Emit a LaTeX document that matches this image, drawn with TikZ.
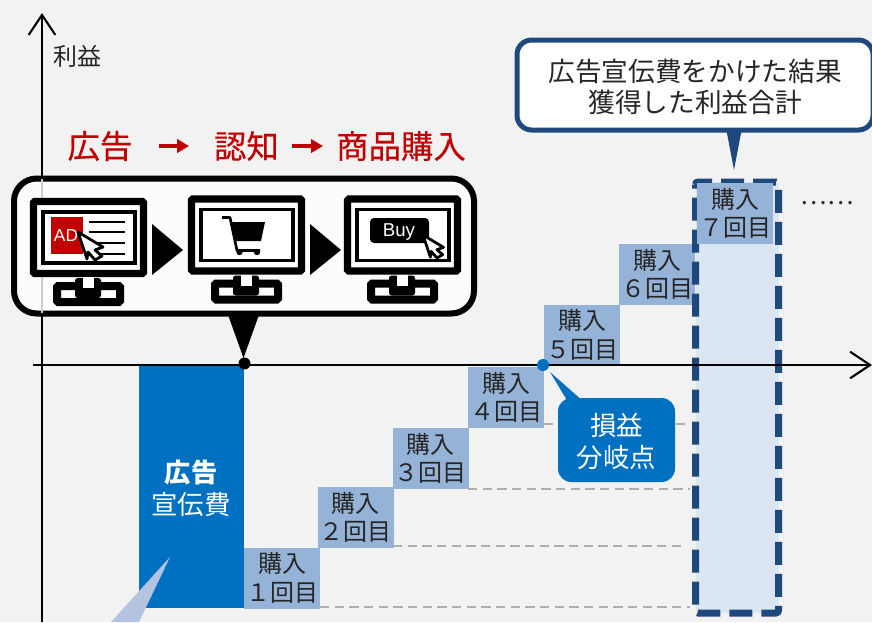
\documentclass[tikz,border=0pt]{standalone}
\usepackage{fontspec}
\setmainfont{Noto Sans CJK JP}
\newfontfamily\medfont[FakeBold=0.25]{Noto Sans CJK JP}
\newfontfamily\latinfont{Liberation Sans}
\usetikzlibrary{arrows.meta}
\definecolor{bgc}{HTML}{F2F2F2}
\definecolor{blueA}{HTML}{0070C0}
\definecolor{stepc}{HTML}{95B3D7}
\definecolor{navy}{HTML}{1F497D}
\definecolor{paleb}{HTML}{DCE6F2}
\definecolor{redc}{HTML}{C00000}
\definecolor{wedge}{HTML}{B4C3DF}
\definecolor{dashc}{HTML}{AEAEAE}
\definecolor{callw}{HTML}{FCFCFC}
\newcommand{\fs}[1]{\fontsize{#1}{#1}\selectfont}
\newcommand{\curs}[3]{%
  \draw[fill=white,draw=black,line width=2.1pt,line join=round,shift={(#1,#2)},scale=#3]
    (0,0) -- (25,15) -- (17,18) -- (24,24) -- (17,28) -- (10,20) -- (9,27) -- cycle;}
\newcommand{\monitor}[2]{%
  \begin{scope}[shift={(#1,#2)}]
    \draw[line width=5.4pt,fill=white,rounded corners=1pt] (33.5,201.5) rectangle (143.5,273.5);
    \draw[line width=2.4pt,fill=white] (43,212) rectangle (135,263);
    \draw[line width=6pt,fill=white,rounded corners=1pt] (57,286) rectangle (120,302);
    \fill[black,rounded corners=2pt] (75,278) rectangle (101,298);
    \fill[white] (83,277) rectangle (94,288);
  \end{scope}}
\tikzset{
  stepbox/.style={fill=stepc,inner sep=0pt,minimum width=57pt,minimum height=45.75pt,
    align=center,text=black!85,font=\fontsize{18}{21.5}\selectfont},
  guide/.style={dashc,line width=1.5pt,dash pattern=on 7pt off 4pt},
  axisline/.style={line width=1.6pt,-{Straight Barb[length=15pt,width=20pt,line width=1.6pt]}},
  redtitle/.style={text=redc,inner sep=0pt,font=\medfont\fs{24.3}},
  dot/.style={circle,inner sep=0pt,minimum size=9pt},
}
\begin{document}
\begin{tikzpicture}[x=0.75pt,y=-0.75pt]
\useasboundingbox[fill=bgc] (0,0) rectangle (872,622);
% axes
\coordinate (xs) at (33,365); \coordinate (xe) at (872,365);
\coordinate (ys) at (42,622); \coordinate (ye) at (42,13);
\draw[axisline] (ys) -- (ye);
\node[inner sep=0pt,text=black!85,font=\fs{18}] (rieki) at (77,56) {利益};
% guide lines
\coordinate (g1a) at (320,607); \coordinate (g1b) at (690,607);
\coordinate (g2a) at (393,545.5); \coordinate (g2b) at (685,545.5);
\coordinate (g3a) at (468,489); \coordinate (g3b) at (690,489);
\coordinate (g4a) at (544,424); \coordinate (g4b) at (690,424);
\draw[guide] (g1a) -- (g1b);
\draw[guide] (g2a) -- (g2b);
\draw[guide] (g3a) -- (g3b);
\draw[guide] (g4a) -- (g4b);
% cost bar
\node[fill=blueA,inner sep=0pt,minimum width=78.75pt,minimum height=183pt] (cost) at (191.5,486) {};
\node[text=white,inner sep=0pt,font=\bfseries\fs{19.7}] (costa) at (191,473) {広告};
\node[text=white,inner sep=0pt,font=\fs{19.8}] (costb) at (191,504) {宣伝費};
\fill[wedge] (170,557) -- (111,622) -- (139,622) -- cycle;
% steps
\node[stepbox] (s1) at (282,578) {購入\\１回目};
\node[stepbox] (s2) at (355.5,517.5) {購入\\２回目};
\node[stepbox] (s3) at (430.5,458.5) {購入\\３回目};
\node[stepbox] (s4) at (506,397.5) {購入\\４回目};
\node[stepbox] (s5) at (582,335) {購入\\５回目};
\node[stepbox] (s6) at (657,274.5) {購入\\６回目};
% total column
\draw[navy,fill=paleb,line width=5.25pt,dash pattern=on 17.25pt off 6.75pt,dash phase=14.25pt,rounded corners=2pt]
  (695.5,182) rectangle (778.5,613);
\node[stepbox] (s7) at (735,213.5) {購入\\７回目};
\node[inner sep=0pt,text=black!85,font=\fs{18.75}] (dots) at (827,203) {……};
\draw[axisline] (xs) -- (xe);
% break-even
\fill[blueA] (550,372) -- (568,402) -- (584,402) -- cycle;
\node[fill=blueA,rounded corners=10pt,inner sep=0pt,minimum width=87.75pt,minimum height=63pt] (be) at (616.5,440) {};
\node[text=white,inner sep=0pt,font=\fs{19.8}] (bea) at (616.5,425) {損益};
\node[text=white,inner sep=0pt,font=\fs{19.8}] (beb) at (616.5,458) {分岐点};
\node[dot,fill=blueA] (bep) at (543,365) {};
% top callout
\fill[navy] (726,128) -- (742,128) -- (734,170) -- cycle;
\node[draw=navy,line width=3.75pt,fill=white,rounded corners=11pt,inner sep=0pt,minimum width=267pt,minimum height=67.5pt] (tc) at (695,85) {};
\node[inner sep=0pt,text=black!85,font=\fs{20}] (tca) at (695,71) {広告宣伝費をかけた結果};
\node[inner sep=0pt,text=black!85,font=\fs{20}] (tcb) at (695,102) {獲得した利益合計};
% red title
\node[redtitle] (ta) at (100,146) {広告};
\node[redtitle] (tb) at (246.5,146) {認知};
\node[redtitle] (tc2) at (401,146) {商品購入};
\coordinate (a1s) at (159,146); \coordinate (a1e) at (189,146);
\coordinate (a2s) at (292,146); \coordinate (a2e) at (323,146);
\draw[redc,line width=2.4pt,-{Triangle[length=9pt,width=10pt]}] (a1s) -- (a1e);
\draw[redc,line width=2.4pt,-{Triangle[length=9pt,width=10pt]}] (a2s) -- (a2e);
% black callout
\fill[black] (227,312) -- (260,312) -- (243.5,358) -- cycle;
\node[dot,fill=black] (bk) at (244.5,363.5) {};
\node[draw=black,line width=4.5pt,fill=callw,rounded corners=17pt,inner sep=0pt,minimum width=345pt,minimum height=101.25pt] (mc) at (244,246) {};
\draw[black!20,line width=1.5pt] (42,179) -- (42,313);
% monitors
\monitor{0}{0}
\monitor{158}{-2.5}
\monitor{314}{-2.5}
\fill[black] (152,224) -- (183,250) -- (152,275) -- cycle;
\fill[black] (310,224) -- (341,250) -- (310,275) -- cycle;
% screen 1
\node[fill=redc,inner sep=0pt,minimum width=24pt,minimum height=27.75pt] (adbox) at (67,235.5) {};
\node[text=white,inner sep=0pt,font=\latinfont\fs{13}] (ad) at (66,236) {AD};
\foreach \yy in {222,232,243,254}
  \draw[line width=1.2pt] (89,\yy) -- (125,\yy);
\curs{78}{232}{1}
% screen 2 cart
\draw[line width=2pt,line join=round] (222,217.5) -- (230,217.5) -- (237,250.5) -- (260,250.5);
\fill[black] (231,222) -- (265,222) -- (261,241) -- (235,241) -- cycle;
\fill[black] (239.5,252) circle[radius=3.2];
\fill[black] (257,252) circle[radius=3.2];
% screen 3
\node[fill=black,rounded corners=3pt,inner sep=0pt,minimum width=44.25pt,minimum height=18.75pt] (buybox) at (399.5,230.5) {};
\node[text=white,inner sep=0pt,font=\latinfont\fs{14}] (buy) at (399,232) {Buy};
\curs{423}{235}{0.82}
\end{tikzpicture}
\end{document}
